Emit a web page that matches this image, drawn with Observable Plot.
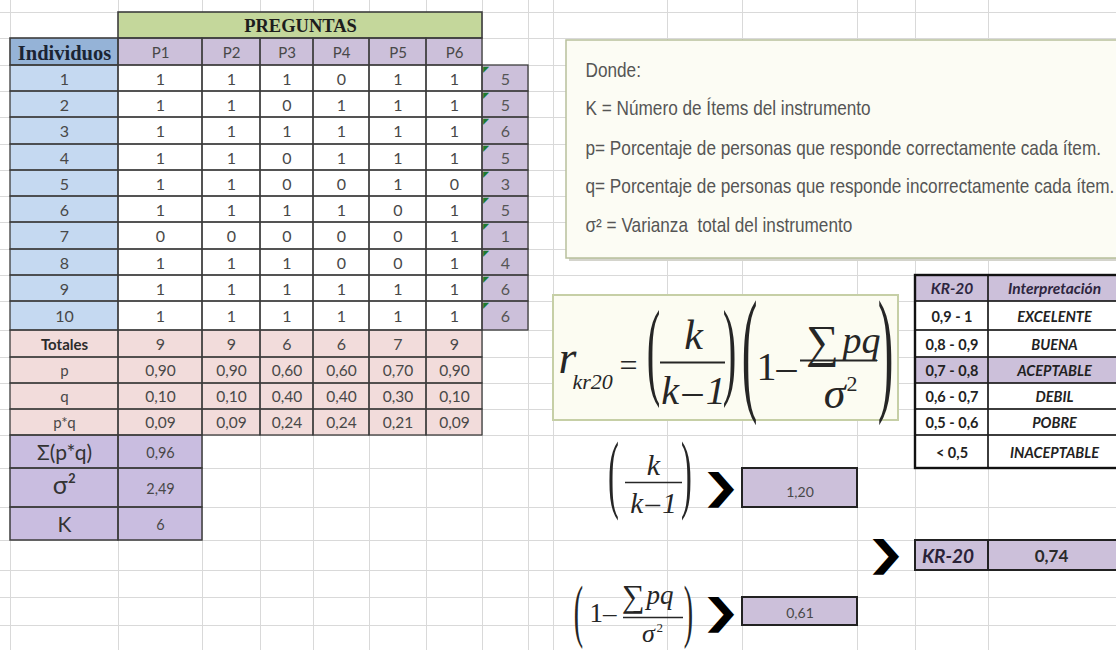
<!DOCTYPE html>
<html><head><meta charset="utf-8">
<script src="https://cdn.jsdelivr.net/npm/d3@7"></script>
<script src="https://cdn.jsdelivr.net/npm/@observablehq/plot@0.6"></script>
<style>html,body{margin:0;padding:0;background:#fff}</style>
</head><body><div id="chart"></div>
<script>
// ---------------- DATA ----------------
const individuos = [1, 2, 3, 4, 5, 6, 7, 8, 9, 10];
const preguntas = ["P1", "P2", "P3", "P4", "P5", "P6"];
const respuestas = [
  [1, 1, 1, 0, 1, 1],
  [1, 1, 0, 1, 1, 1],
  [1, 1, 1, 1, 1, 1],
  [1, 1, 0, 1, 1, 1],
  [1, 1, 0, 0, 1, 0],
  [1, 1, 1, 1, 0, 1],
  [0, 0, 0, 0, 0, 1],
  [1, 1, 1, 0, 0, 1],
  [1, 1, 1, 1, 1, 1],
  [1, 1, 1, 1, 1, 1]
];
const sumas = [5, 5, 6, 5, 3, 5, 1, 4, 6, 6];
const totales = [9, 9, 6, 6, 7, 9];
const pValores = [0.90, 0.90, 0.60, 0.60, 0.70, 0.90];
const qValores = [0.10, 0.10, 0.40, 0.40, 0.30, 0.10];
const pqValores = [0.09, 0.09, 0.24, 0.24, 0.21, 0.09];
const filasPQ = ["p", "q", "p*q"];
const resumenEtiquetas = ["Σ(p*q)", "σ²", "K"];
const resumenValores = ["0,96", "2,49", "6"];
const factorK = "1,20";
const factorPQ = "0,61";
const kr20 = "0,74";
const rangosKR = ["0,9 - 1", "0,8 - 0,9", "0,7 - 0,8", "0,6 - 0,7", "0,5 - 0,6", "< 0,5"];
const interpretaciones = ["EXCELENTE", "BUENA", "ACEPTABLE", "DEBIL", "POBRE", "INACEPTABLE"];
const rangoDestacado = "0,7 - 0,8";
const definiciones = [
  "Donde:",
  "K = Número de Ítems del instrumento",
  "p= Porcentaje de personas que responde correctamente cada ítem.",
  "q= Porcentaje de personas que responde incorrectamente cada ítem.",
  "σ² = Varianza  total del instrumento"
];

// ---------------- LAYOUT (spreadsheet grid) ----------------
const W = 1116, H = 650;
const COL = [10, 118, 202, 260, 313, 369, 426, 482, 528, 553, 667, 742, 857, 915, 988, 1122];
const ROW = [12, 38, 65, 91, 117, 144, 170, 196, 222, 249, 275, 301, 330, 357, 383, 409, 435, 468, 507, 540, 570, 597, 625, 652];
const LAV = "#ccc0da", LAV2 = "#c9bde0", BLUE = "#c5d9f1", BLUEH = "#95b3d7", GREEN = "#c4d79b", PINK = "#f2dcdb";
const INK = "#484848";
const fmt = v => v.toFixed(2).replace(".", ",");

const fills = [], borders = [], texts = [], lines = [];
function cell(c1, c2, r1, r2, fill, sw = 1.3, sc = "#3d3d3d") {
  const b = {x1: COL[c1], x2: COL[c2], y1: ROW[r1], y2: ROW[r2]};
  if (fill) fills.push({...b, fill});
  if (sw) borders.push({...b, sw, sc});
}
function T(x, y, text, o = {}) {
  texts.push({x, y, text: String(text), size: o.size ?? 16, family: o.family ?? "Lato",
    weight: o.weight ?? "normal", italic: o.italic ? "italic" : "normal", fill: o.fill ?? INK,
    anchor: o.anchor ?? "middle", la: o.la ?? "middle", sx: o.sx ?? 0});
}
function ctext(c1, c2, r1, r2, text, o = {}) {
  T((COL[c1] + COL[c2]) / 2 + (o.dx ?? 0), (ROW[r1] + ROW[r2]) / 2 + (o.dy ?? 1), text, o);
}
// baseline-based text for formulas
function B(x, base, text, o = {}) {
  const size = o.size ?? 40;
  T(x, base - 0.32 * size, text, {family: "Liberation Serif", fill: "#262626", ...o, size});
}
const KM1 = "k\u200A\u2013\u200A1";

// --- main table ---
cell(1, 7, 0, 1, GREEN, 1.6);
ctext(1, 7, 0, 1, "PREGUNTAS", {family: "Liberation Serif", weight: "bold", size: 18.5, fill: "#1d1d1d"});
cell(0, 1, 1, 2, BLUEH, 1.6);
ctext(0, 1, 1, 2, "Individuos", {family: "Liberation Serif", weight: "bold", size: 20.5, fill: "#1b2433"});
preguntas.forEach((pr, j) => { cell(1 + j, 2 + j, 1, 2, LAV); ctext(1 + j, 2 + j, 1, 2, pr, {size: 15}); });
individuos.forEach((ind, i) => {
  const r = 2 + i;
  cell(0, 1, r, r + 1, BLUE);
  ctext(0, 1, r, r + 1, ind, {size: 16});
  respuestas[i].forEach((v, j) => { cell(1 + j, 2 + j, r, r + 1, "#ffffff"); ctext(1 + j, 2 + j, r, r + 1, v, {size: 16}); });
  cell(7, 8, r, r + 1, LAV);
  ctext(7, 8, r, r + 1, sumas[i], {size: 16, fill: "#555"});
  T(COL[7] + 0.5, ROW[r] + 0.5, "◤", {family: "DejaVu Sans", size: 8, fill: "#1d7a31", anchor: "start", la: "top"});
});
cell(0, 1, 12, 13, PINK);
ctext(0, 1, 12, 13, "Totales", {size: 15, weight: "bold", fill: "#2b2b2b"});
totales.forEach((v, j) => { cell(1 + j, 2 + j, 12, 13, PINK); ctext(1 + j, 2 + j, 12, 13, v, {size: 16}); });
[pValores, qValores, pqValores].forEach((arr, k) => {
  const r = 13 + k;
  cell(0, 1, r, r + 1, PINK);
  ctext(0, 1, r, r + 1, filasPQ[k], {size: 15});
  arr.forEach((v, j) => { cell(1 + j, 2 + j, r, r + 1, PINK); ctext(1 + j, 2 + j, r, r + 1, fmt(v), {size: 15.5}); });
});
resumenEtiquetas.forEach((lab, k) => {
  const r = 16 + k;
  cell(0, 1, r, r + 1, LAV2, 1.5);
  cell(1, 2, r, r + 1, LAV2, 1.5);
  ctext(0, 1, r, r + 1, lab, {size: k === 1 ? 25 : 21, fill: "#333", dy: k === 1 ? -2 : 1});
  ctext(1, 2, r, r + 1, resumenValores[k], {size: 14.5});
});

// --- KR-20 interpretation table ---
cell(13, 14, 10, 11, LAV, 1.3, "#222");
cell(14, 15, 10, 11, LAV, 1.3, "#222");
ctext(13, 14, 10, 11, "KR-20", {size: 15.5, weight: "bold", italic: true, fill: "#2e2640"});
ctext(14, 15, 10, 11, "Interpretación", {size: 15.5, weight: "bold", italic: true, fill: "#2e2640", dx: -1});
rangosKR.forEach((rg, i) => {
  const r = 11 + i;
  const f = rg === rangoDestacado ? LAV : "#ffffff";
  cell(13, 14, r, r + 1, f, 1.3, "#222");
  cell(14, 15, r, r + 1, f, 1.3, "#222");
  ctext(13, 14, r, r + 1, rg, {size: 14.5, weight: "bold", fill: "#222"});
  ctext(14, 15, r, r + 1, interpretaciones[i], {size: 14.5, weight: "bold", italic: true, fill: "#222", dx: -1});
});
borders.push({x1: COL[13], x2: COL[15], y1: ROW[10], y2: ROW[17], sw: 2.4, sc: "#111"});

// --- result boxes ---
cell(11, 12, 17, 18, LAV, 2, "#222");
ctext(11, 12, 17, 18, factorK, {size: 14, dy: 5});
cell(11, 12, 21, 22, LAV, 2, "#222");
ctext(11, 12, 21, 22, factorPQ, {size: 14, dy: 2});
cell(13, 14, 19, 20, LAV, 2, "#222");
cell(14, 15, 19, 20, LAV, 2, "#222");
ctext(13, 14, 19, 20, "KR-20", {size: 19, weight: "bold", italic: true, fill: "#2a2238", dx: -4});
ctext(14, 15, 19, 20, kr20, {size: 17, weight: "bold", fill: "#2a2a2a", dx: -4});

// --- "Donde" definitions box ---
const DB = {x1: 566, x2: 1130, y1: 40, y2: 258};
definiciones.forEach((d, i) => T(DB.x1 + 19, DB.y1 + [30, 68, 108, 146, 185][i], d,
  {family: "Liberation Sans", size: 20, fill: "#555555", anchor: "start", sx: 0.86}));

// --- formula box ---
const FB = {x1: 553, x2: 898, y1: 295, y2: 420};
const fx = FB.x1, fy = FB.y1;
B(fx + 5, fy + 77, "r", {size: 46, italic: true, anchor: "start"});
B(fx + 19, fy + 93, "kr20", {size: 22, italic: true, anchor: "start"});
B(fx + 75, fy + 80, "=", {size: 32});
B(fx + 100, fy + 89, "(", {size: 107, sx: 0.38});
B(fx + 140, fy + 53, "k", {size: 42, italic: true});
lines.push({x1: fx + 107, x2: fx + 172, y: fy + 67, sw: 2});
B(fx + 140, fy + 108, KM1, {size: 40, italic: true});
B(fx + 176, fy + 89, ")", {size: 107, sx: 0.38});
B(fx + 196, fy + 100, "(", {size: 138, sx: 0.34});
B(fx + 203, fy + 84, "1\u2013", {size: 40, anchor: "start"});
B(fx + 269, fy + 61, "∑", {size: 46});
B(fx + 289, fy + 57, "pq", {size: 38, italic: true, anchor: "start"});
lines.push({x1: fx + 247, x2: fx + 324, y: fy + 65, sw: 2});
B(fx + 281, fy + 112, "σ", {size: 44, italic: true});
B(fx + 293, fy + 95, "2", {size: 22, anchor: "start"});
B(fx + 332, fy + 100, ")", {size: 138, sx: 0.34});

// --- k/(k-1) row ---
const ax = COL[9], ay = ROW[17];
B(ax + 60, ay + 33, "(", {size: 86, sx: 0.38});
B(ax + 100, ay + 6, "k", {size: 30, italic: true});
lines.push({x1: ax + 72, x2: ax + 129, y: ay + 14, sw: 1.6});
B(ax + 100, ay + 44, KM1, {size: 29, italic: true});
B(ax + 133, ay + 33, ")", {size: 86, sx: 0.38});
T(ax + 167, ay + 19, "❯", {family: "DejaVu Sans", weight: "bold", size: 36, fill: "#000", sx: 1.35});

// --- (1 - Σpq/σ²) row ---
const bx = COL[9], by = ROW[21];
B(bx + 25, by + 36, "(", {size: 70, sx: 0.4});
B(bx + 36, by + 24, "1\u2013", {size: 27, anchor: "start"});
B(bx + 80, by + 9, "∑", {size: 32});
B(bx + 93, by + 6, "pq", {size: 27, italic: true, anchor: "start"});
lines.push({x1: bx + 70, x2: bx + 130, y: by + 20, sw: 1.4});
B(bx + 95, by + 44, "σ", {size: 26, italic: true});
B(bx + 103, by + 34, "2", {size: 13, anchor: "start"});
B(bx + 135, by + 36, ")", {size: 70, sx: 0.4});
T(bx + 167, by + 15, "❯", {family: "DejaVu Sans", weight: "bold", size: 36, fill: "#000", sx: 1.35});

// --- arrow to KR-20 ---
T(COL[12] + 28, ROW[19] + 14, "❯", {family: "DejaVu Sans", weight: "bold", size: 36, fill: "#000", sx: 1.35});

// ---------------- PLOT ----------------
const groups = d3.groups(texts, d => [d.family, d.weight, d.italic, d.fill, d.anchor, d.la, d.sx].join("|"));
const textMarks = groups.map(([key, items]) => {
  const d0 = items[0];
  return Plot.text(items, {
    x: "x", y: "y", text: "text", fontSize: d => d.size,
    fontFamily: d0.family, fontWeight: d0.weight, fontStyle: d0.italic,
    fill: d0.fill, textAnchor: d0.anchor, lineAnchor: d0.la,
    ariaDescription: d0.sx ? "sx:" + d0.sx : "text"
  });
});

const chart = Plot.plot({
  width: W, height: H,
  margin: 0, marginTop: 0, marginRight: 0, marginBottom: 0, marginLeft: 0,
  x: {type: "linear", domain: [0, W], range: [0, W], axis: null},
  y: {type: "linear", domain: [0, H], range: [0, H], axis: null},
  color: {type: "identity"},
  style: {background: "#ffffff", overflow: "hidden"},
  marks: [
    Plot.ruleX(COL, {stroke: "#d9d9d9", strokeWidth: 1}),
    Plot.ruleY(ROW, {stroke: "#d9d9d9", strokeWidth: 1}),
    // definitions box with shadow
    Plot.rect([DB], {x1: d => d.x1 + 3, x2: d => d.x2 + 3, y1: d => d.y1 + 3, y2: d => d.y2 + 3, fill: "#d4d4cc"}),
    Plot.rect([DB], {x1: "x1", x2: "x2", y1: "y1", y2: "y2", fill: "#fcfcf4", stroke: "#b8c09c", strokeWidth: 1.5}),
    // formula box
    Plot.rect([FB], {x1: "x1", x2: "x2", y1: "y1", y2: "y2", fill: "#fcfcf2", stroke: "#c6cfa6", strokeWidth: 2}),
    Plot.rect(fills, {x1: "x1", x2: "x2", y1: "y1", y2: "y2", fill: "fill"}),
    Plot.rect(borders, {x1: "x1", x2: "x2", y1: "y1", y2: "y2", fill: null, stroke: "sc", strokeWidth: "sw"}),
    Plot.ruleY(lines, {y: "y", x1: "x1", x2: "x2", stroke: "#262626", strokeWidth: "sw"}),
    ...textMarks
  ]
});

// horizontally scale selected glyphs (tall parentheses, narrow text)
chart.querySelectorAll('g[aria-description^="sx:"]').forEach(g => {
  const s = +g.getAttribute("aria-description").slice(3);
  g.querySelectorAll("text").forEach(t => {
    let tr = t.getAttribute("transform");
    if (!tr) {
      const x = t.getAttribute("x") || 0, y = t.getAttribute("y") || 0;
      t.removeAttribute("x"); t.removeAttribute("y");
      tr = `translate(${x},${y})`;
    }
    t.setAttribute("transform", tr + ` scale(${s},1)`);
  });
});
document.getElementById("chart").appendChild(chart);
</script>
</body></html>
